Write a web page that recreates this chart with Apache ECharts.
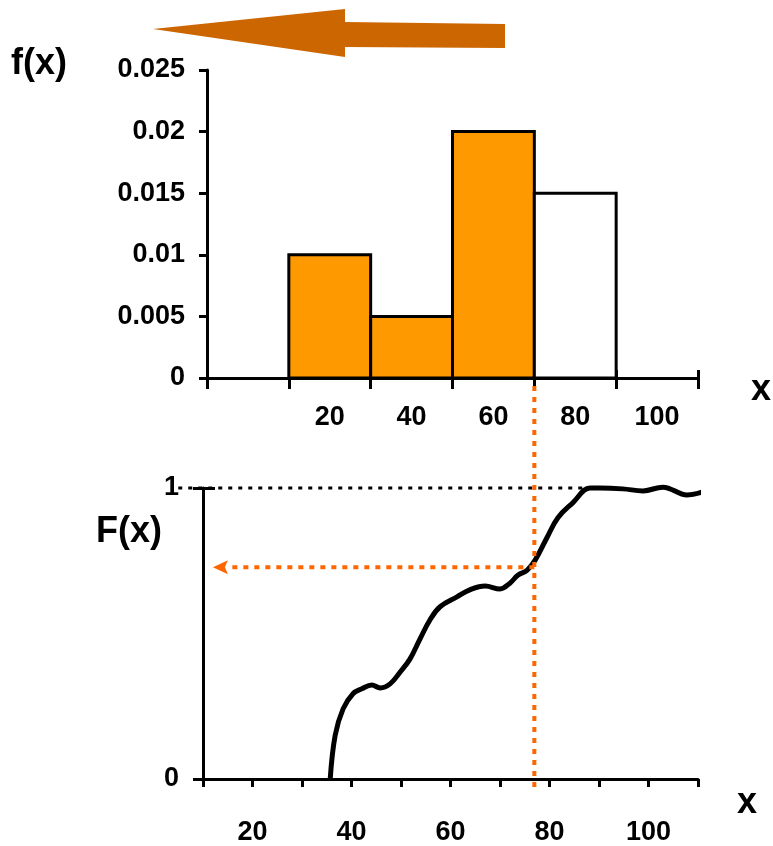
<!DOCTYPE html>
<html>
<head>
<meta charset="utf-8">
<script src="https://cdn.jsdelivr.net/npm/echarts@6/dist/echarts.min.js"></script>
<style>
    html, body { margin: 0; padding: 0; background: #fff; }
    #main { width: 773px; height: 846px; }
</style>
</head>
<body>
<div id="main"></div>
<script>
// histogram f(x)
var binStart = [10, 30, 50, 70];
var binEnd   = [30, 50, 70, 90];
var density  = [0.01, 0.005, 0.02, 0.015];
var topTicks  = [-10, 10, 30, 50, 70, 90, 110];
var topLabels = [20, 40, 60, 80, 100];

// cumulative curve F(x)
var cdfX = [35.7, 36.7, 38.3, 40.3, 42.1, 44.1, 45.8, 47.8, 49.8, 51.8, 53.8, 55.9, 57.9, 61.3, 63.9, 67.0, 70.0, 72.0, 73.6, 75.5, 77.1, 79.5, 81.7, 84.7, 88.2, 90.2, 94.8, 98.9, 102.9, 107.8, 112.8];
var cdfY = [0, 0.15, 0.241, 0.293, 0.31, 0.323, 0.313, 0.327, 0.367, 0.412, 0.48, 0.548, 0.592, 0.626, 0.65, 0.663, 0.653, 0.673, 0.70, 0.718, 0.752, 0.83, 0.898, 0.949, 1.0, 1.0, 0.997, 0.99, 1.003, 0.976, 1.0];
var bottomLabels = [20, 40, 60, 80, 100];

var cutX = 70;       // x marked on the histogram
var cutF = 0.728;    // F value read at that x
var arrowEndX = 12;  // arrow points back to the F axis
var oneLine = [5, 88.2];

var FONT = 'Liberation Sans';
var labelStyle = { color: '#000', fontFamily: FONT, fontWeight: 'bold', fontSize: 27 };

var myChart = echarts.init(document.getElementById('main'));

var histData = [];
for (var i = 0; i < density.length; i++) {
    histData.push([binStart[i], binEnd[i], density[i]]);
}
var cdfData = [];
for (var j = 0; j < cdfX.length; j++) {
    cdfData.push([cdfX[j], cdfY[j]]);
}

var blackLine = { onZero: false, lineStyle: { color: '#000', width: 3 } };

var option = {
    animation: false,
    grid: [
        { left: 207, top: 70, width: 491, height: 308 },
        { left: 203, top: 488, width: 495, height: 293 }
    ],
    xAxis: [
        {
            gridIndex: 0, type: 'value', min: -10, max: 110, position: 'bottom',
            axisLine: blackLine,
            axisTick: { show: true, length: 11, customValues: topTicks, lineStyle: { color: '#000', width: 3 } },
            axisLabel: Object.assign({ margin: 26, customValues: topLabels }, labelStyle),
            splitLine: { show: false }
        },
        {
            // same axis again, only for the ticks that poke up into the plot
            gridIndex: 0, type: 'value', min: -10, max: 110, position: 'bottom', offset: 0,
            axisLine: { show: false, onZero: false },
            axisTick: { show: true, inside: true, length: 8, customValues: topTicks, lineStyle: { color: '#000', width: 3 } },
            axisLabel: { show: false },
            splitLine: { show: false }
        },
        {
            gridIndex: 1, type: 'value', min: 10, max: 110, interval: 10, position: 'bottom',
            axisLine: blackLine,
            axisTick: { show: true, length: 8, lineStyle: { color: '#000', width: 3 } },
            axisLabel: Object.assign({ margin: 40, customValues: bottomLabels }, labelStyle),
            splitLine: { show: false }
        }
    ],
    yAxis: [
        {
            gridIndex: 0, type: 'value', min: 0, max: 0.025, interval: 0.005,
            axisLine: { show: true, onZero: false, lineStyle: { color: '#000', width: 3 } },
            axisTick: { show: true, length: 8, lineStyle: { color: '#000', width: 3 } },
            axisLabel: Object.assign({ margin: 22 }, labelStyle),
            splitLine: { show: false }
        },
        {
            gridIndex: 1, type: 'value', min: 0, max: 1, interval: 1,
            axisLine: { show: true, onZero: false, lineStyle: { color: '#000', width: 3 } },
            axisTick: { show: true, length: 10, lineStyle: { color: '#000', width: 3 } },
            axisLabel: Object.assign({ margin: 24 }, labelStyle),
            splitLine: { show: false }
        },
        {
            gridIndex: 1, type: 'value', min: 0, max: 1, interval: 1, position: 'left', offset: 0,
            axisLine: { show: false, onZero: false },
            axisTick: { show: true, inside: true, length: 12, lineStyle: { color: '#000', width: 3 } },
            axisLabel: { show: false },
            splitLine: { show: false }
        }
    ],
    series: [
        {
            type: 'custom',
            xAxisIndex: 0,
            yAxisIndex: 0,
            data: histData,
            z: 3,
            renderItem: function (params, api) {
                var p0 = api.coord([api.value(0), api.value(2)]);
                var p1 = api.coord([api.value(1), 0]);
                return {
                    type: 'rect',
                    shape: { x: p0[0], y: p0[1], width: p1[0] - p0[0], height: p1[1] - p0[1] },
                    style: {
                        fill: api.value(1) <= cutX ? '#FF9900' : '#FFFFFF',
                        stroke: '#000',
                        lineWidth: 3
                    }
                };
            }
        },
        {
            type: 'line',
            xAxisIndex: 2,
            yAxisIndex: 1,
            data: cdfData,
            smooth: 0.4,
            showSymbol: false,
            clip: false,
            z: 4,
            lineStyle: { color: '#000', width: 5 }
        }
    ],
    graphic: [
        // big arrow at the top
        {
            type: 'polygon',
            shape: { points: [[153, 29], [345, 9], [345, 22], [505, 24], [505, 48], [345, 47], [345, 57]] },
            style: { fill: '#CC6600' }
        },
        { type: 'text', left: 11, top: 46, style: { text: 'f(x)', font: 'bold 36px ' + FONT, fill: '#000' } },
        { type: 'text', left: 751, top: 372, style: { text: 'x', font: 'bold 36px ' + FONT, fill: '#000' } },
        { type: 'text', left: 96, top: 514, style: { text: 'F(x)', font: 'bold 36px ' + FONT, fill: '#000' } },
        { type: 'text', left: 737, top: 785, style: { text: 'x', font: 'bold 36px ' + FONT, fill: '#000' } }
    ]
};

myChart.setOption(option);

// guide lines, placed through the axes
var pTop = myChart.convertToPixel({ xAxisIndex: 0, yAxisIndex: 0 }, [cutX, 0]);
var pF = myChart.convertToPixel({ xAxisIndex: 2, yAxisIndex: 1 }, [arrowEndX, cutF]);
var pZero = myChart.convertToPixel({ xAxisIndex: 2, yAxisIndex: 1 }, [10, 0]);
var pOneA = myChart.convertToPixel({ xAxisIndex: 2, yAxisIndex: 1 }, [oneLine[0], 1]);
var pOneB = myChart.convertToPixel({ xAxisIndex: 2, yAxisIndex: 1 }, [oneLine[1], 1]);

var orange = '#FF6600';
myChart.setOption({
    graphic: option.graphic.concat([
        {
            type: 'line', z: 5,
            shape: { x1: pOneA[0], y1: pOneA[1], x2: pOneB[0], y2: pOneB[1] },
            style: { stroke: '#000', lineWidth: 3, lineDash: [4, 6] }
        },
        {
            type: 'line', z: 6,
            shape: { x1: pTop[0], y1: pTop[1] + 8, x2: pTop[0], y2: pZero[1] + 10 },
            style: { stroke: orange, lineWidth: 4, lineDash: [5, 6] }
        },
        {
            type: 'line', z: 6,
            shape: { x1: pTop[0], y1: pF[1], x2: pF[0] + 14, y2: pF[1] },
            style: { stroke: orange, lineWidth: 4, lineDash: [5, 6] }
        },
        {
            type: 'polygon', z: 6,
            shape: { points: [[pF[0], pF[1]], [pF[0] + 15, pF[1] - 7], [pF[0] + 12, pF[1]], [pF[0] + 15, pF[1] + 7]] },
            style: { fill: orange }
        }
    ])
});
</script>
</body>
</html>
